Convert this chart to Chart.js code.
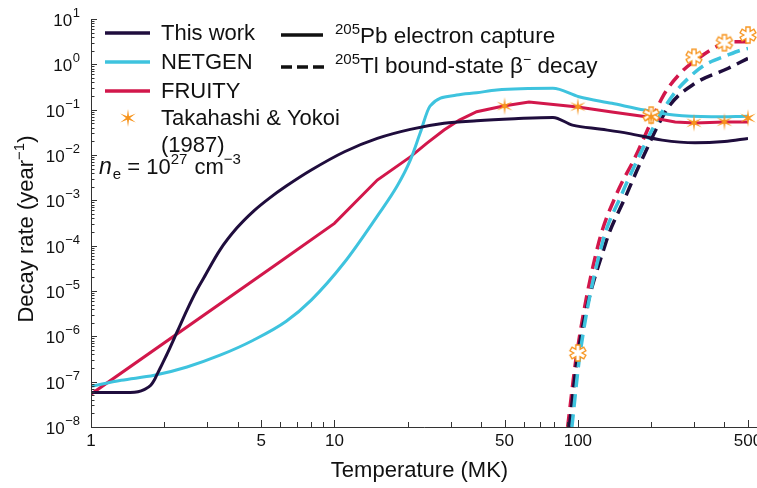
<!DOCTYPE html>
<html><head><meta charset="utf-8">
<script src="https://cdn.jsdelivr.net/npm/chart.js@4/dist/chart.umd.min.js"></script>
<style>html,body{margin:0;padding:0;background:#fff}canvas{display:block}</style>
</head><body>
<canvas id="c" width="757" height="488"></canvas>
<script>
const FONT = '"Liberation Sans", Arial, Helvetica, sans-serif';
const C_THIS = '#1f0d3d', C_NET = '#3ec3de', C_FRU = '#d2174b', C_TY = '#f7941d';

// 205Pb electron capture (solid)
const thisWorkEC_T = [1, 1.2, 1.45, 1.56, 1.654, 1.76, 1.818, 1.875, 1.965, 2.059, 2.262, 2.484, 2.729, 2.912, 3.384, 3.97, 4.656, 5.41, 6.34, 8.0, 11.0, 15.0, 20.5, 28.2, 38.4, 55, 79, 95, 125, 161, 222, 303, 400, 500];
const thisWorkEC   = [5.8e-8, 5.8e-8, 5.8e-8, 6.0e-8, 6.7e-8, 8.3e-8, 1.07e-7, 1.51e-7, 2.5e-7, 4.2e-7, 1.28e-6, 3.9e-6, 1.08e-5, 1.99e-5, 8.0e-5, 2.44e-4, 5.8e-4, 1.12e-3, 2.06e-3, 4.6e-3, 0.0118, 0.0232, 0.0367, 0.0499, 0.0569, 0.063, 0.0676, 0.0457, 0.037, 0.030, 0.0213, 0.0186, 0.0199, 0.0232];
const netgenEC_T = [1, 1.33, 1.82, 2.48, 3.39, 4.64, 6.34, 8.03, 11.0, 15.0, 18.1, 20.5, 22.5, 24.7, 31.8, 38.4, 46.4, 78.9, 101, 138, 188, 248, 354, 500];
const netgenEC   = [7.9e-8, 1.07e-7, 1.38e-7, 2.11e-7, 3.83e-7, 8.2e-7, 2.15e-6, 6.3e-6, 4.3e-5, 4.5e-4, 2.06e-3, 7.7e-3, 0.0304, 0.12, 0.21, 0.236, 0.271, 0.295, 0.193, 0.138, 0.098, 0.076, 0.0697, 0.072];
const fruityEC_T = [1, 5.9, 10, 15, 20.5, 24, 28.2, 32.6, 38.4, 49.5, 63, 100, 138, 194, 251, 303, 400, 500];
const fruityEC   = [5.3e-8, 4.2e-5, 3.1e-4, 2.8e-3, 9.1e-3, 0.0183, 0.0355, 0.059, 0.09, 0.12, 0.147, 0.114, 0.0885, 0.0687, 0.0532, 0.0506, 0.0532, 0.0532];

// 205Tl bound-state beta- decay (dashed)
const thisWorkBSD_T = [92.3, 100, 130, 157, 183, 236, 303, 413, 500];
const thisWorkBSD   = [1e-8, 4e-7, 1.12e-4, 1.2e-3, 7.8e-3, 0.115, 0.38, 0.81, 1.35];
const netgenBSD_T = [94.5, 102, 126, 152, 178, 205, 243, 284, 332, 413, 469, 500];
const netgenBSD   = [1e-8, 4e-7, 1.14e-4, 1.42e-3, 9.1e-3, 0.042, 0.193, 0.49, 0.966, 1.60, 2.07, 2.25];
const fruityBSD_T = [90.8, 98.9, 121.6, 144.5, 172.2, 195, 223.9, 263, 302.7, 388, 440.5, 500];
const fruityBSD   = [1e-8, 4e-7, 1.12e-4, 1.41e-3, 9.1e-3, 0.040, 0.20, 0.63, 1.20, 2.75, 3.16, 3.16];

// Takahashi & Yokoi (1987)
const tyEC_T  = [50, 100, 200, 300, 400, 500];
const tyEC    = [0.12, 0.117, 0.0697, 0.0514, 0.054, 0.0653];
const tyBSD_T = [100, 200, 300, 400, 500];
const tyBSD   = [4.3e-7, 0.076, 1.43, 3.0, 4.43];

const xTickLabels = [1, 5, 10, 50, 100, 500];
const yTickExponents = [-8, -7, -6, -5, -4, -3, -2, -1, 0, 1];

function pts(T, V) { return T.map((t, i) => ({ x: t, y: V[i] })); }

function starPath(g, cx, cy, R, a) {
  g.beginPath();
  for (let k = 0; k < 6; k++) {
    const th = (-90 + 60 * k) * Math.PI / 180;
    const ux = Math.cos(th), uy = Math.sin(th), nx = -uy, ny = ux;
    g.lineTo(cx + R * ux - a * nx, cy + R * uy - a * ny);
    g.lineTo(cx + R * ux + a * nx, cy + R * uy + a * ny);
    const tb = th + Math.PI / 6;
    g.lineTo(cx + 2 * a * Math.cos(tb), cy + 2 * a * Math.sin(tb));
  }
  g.closePath();
}
function makeStar(filled) {
  const cv = document.createElement('canvas');
  cv.width = 22; cv.height = 22;
  const g = cv.getContext('2d');
  if (filled) {
    g.beginPath();
    for (let k = 0; k < 12; k++) {
      const th = (-90 + 30 * k) * Math.PI / 180;
      const r = k % 2 === 0 ? 9 : 2.0;
      g.lineTo(11 + r * Math.cos(th), 11 + r * Math.sin(th));
    }
    g.closePath();
    g.fillStyle = C_TY; g.fill();
  } else {
    starPath(g, 11, 11, 8, 2.1);
    g.fillStyle = '#fff'; g.fill();
    g.strokeStyle = C_TY; g.lineWidth = 1.3; g.stroke();
  }
  return cv;
}
const filledStar = makeStar(true), hollowStar = makeStar(false);

function drawRich(ctx, x, y, parts) {
  ctx.textAlign = 'left'; ctx.textBaseline = 'alphabetic';
  for (const p of parts) {
    ctx.font = (p.italic ? 'italic ' : '') + p.size + 'px ' + FONT;
    ctx.fillText(p.t, x, y + (p.dy || 0));
    x += ctx.measureText(p.t).width + (p.gap || 0);
  }
  return x;
}
function richWidth(ctx, parts) {
  let w = 0;
  for (const p of parts) { ctx.font = (p.italic ? 'italic ' : '') + p.size + 'px ' + FONT; w += ctx.measureText(p.t).width + (p.gap || 0); }
  return w;
}

const axisPlugin = {
  id: 'axisPlugin',
  afterDraw(chart) {
    const ctx = chart.ctx, xs = chart.scales.x, ys = chart.scales.y;
    const L = xs.left, B = ys.bottom, T = ys.top, R = xs.right;
    ctx.save();
    ctx.strokeStyle = '#333'; ctx.lineWidth = 1; ctx.fillStyle = '#111';
    // axis lines
    ctx.beginPath();
    ctx.moveTo(L + 0.5, T); ctx.lineTo(L + 0.5, B + 0.5); ctx.lineTo(chart.width, B + 0.5);
    ctx.stroke();
    // y ticks
    ctx.beginPath();
    for (let k = -8; k <= 0; k++) {
      for (let m = 1; m <= 9; m++) {
        const yy = Math.round(ys.getPixelForValue(m * Math.pow(10, k))) + 0.5;
        ctx.moveTo(L, yy); ctx.lineTo(L + (m === 1 ? 6 : 3.5), yy);
      }
    }
    { const yy = Math.round(ys.getPixelForValue(10)) + 0.5; ctx.moveTo(L, yy); ctx.lineTo(L + 6, yy); }
    // x ticks
    for (let k = 0; k <= 2; k++) {
      for (let m = 1; m <= 9; m++) {
        const v = m * Math.pow(10, k);
        if (v > 500) continue;
        const xx = Math.round(xs.getPixelForValue(v)) + 0.5;
        const major = xTickLabels.indexOf(v) >= 0;
        ctx.moveTo(xx, B); ctx.lineTo(xx, B - (major ? 7 : 5));
      }
    }
    ctx.stroke();
    // x labels
    ctx.font = '17px ' + FONT; ctx.textAlign = 'center'; ctx.textBaseline = 'middle';
    for (const v of xTickLabels) ctx.fillText(String(v), xs.getPixelForValue(v), B + 14);
    // y labels
    for (const e of yTickExponents) {
      const yy = ys.getPixelForValue(Math.pow(10, e));
      const es = (e < 0 ? '\u2212' : '') + Math.abs(e);
      ctx.font = '13px ' + FONT;
      const ew = ctx.measureText(es).width;
      ctx.textAlign = 'left'; ctx.textBaseline = 'alphabetic';
      ctx.fillText(es, 80 - ew, yy - 2);
      ctx.font = '17px ' + FONT; ctx.textAlign = 'right';
      ctx.fillText('10', 80 - ew - 0.5, yy + 7);
    }
    // axis titles
    ctx.font = '22px ' + FONT; ctx.textAlign = 'center'; ctx.textBaseline = 'middle';
    ctx.fillText('Temperature (MK)', (L + R) / 2, 471);
    ctx.save();
    ctx.translate(25, 229); ctx.rotate(-Math.PI / 2);
    const yt = [{ t: 'Decay rate (year', size: 22 }, { t: '\u22121', size: 15, dy: -9 }, { t: ')', size: 22 }];
    drawRich(ctx, -richWidth(ctx, yt) / 2, 8, yt);
    ctx.restore();
    // legend column 1
    const rows = [['This work', C_THIS, 33], ['NETGEN', C_NET, 62], ['FRUITY', C_FRU, 91]];
    ctx.lineWidth = 3.5;
    for (const [lab, col, y] of rows) {
      ctx.strokeStyle = col; ctx.beginPath(); ctx.moveTo(105, y); ctx.lineTo(150, y); ctx.stroke();
      drawRich(ctx, 161, y + 7, [{ t: lab, size: 22 }]);
    }
    ctx.drawImage(filledStar, 128 - 11, 118 - 11);
    drawRich(ctx, 161, 125, [{ t: 'Takahashi & Yokoi', size: 22 }]);
    drawRich(ctx, 161, 151.5, [{ t: '(1987)', size: 22 }]);
    drawRich(ctx, 99, 174, [
      { t: 'n', size: 23, italic: true, gap: 1 }, { t: 'e', size: 15, dy: 5 },
      { t: ' = 10', size: 22 }, { t: '27', size: 15, dy: -10, gap: 1 },
      { t: ' cm', size: 22 }, { t: '\u22123', size: 15, dy: -10 }]);
    // legend column 2
    ctx.strokeStyle = '#111'; ctx.lineWidth = 3.5;
    ctx.beginPath(); ctx.moveTo(281, 35); ctx.lineTo(323, 35); ctx.stroke();
    ctx.setLineDash([11, 5]);
    ctx.beginPath(); ctx.moveTo(281, 67); ctx.lineTo(324, 67); ctx.stroke();
    ctx.setLineDash([]);
    drawRich(ctx, 335, 43, [{ t: '205', size: 15, dy: -9 }, { t: 'Pb electron capture', size: 22.5 }]);
    drawRich(ctx, 335, 73, [{ t: '205', size: 15, dy: -9 }, { t: 'Tl bound-state \u03B2', size: 22.5 },
      { t: '\u2212', size: 14, dy: -9 }, { t: ' decay', size: 22.5 }]);
    ctx.restore();
  }
};

const solid = (label, T, V, col, mono, order) => ({
  label, data: pts(T, V), borderColor: col, borderWidth: 3, pointRadius: 0,
  cubicInterpolationMode: mono ? 'monotone' : 'default', tension: 0, fill: false, order
});
const dashed = (label, T, V, col, order) => ({
  label, data: pts(T, V), borderColor: col, borderWidth: 3.5, borderDash: [13, 7], pointRadius: 0,
  cubicInterpolationMode: 'monotone', fill: false, order
});

new Chart(document.getElementById('c'), {
  type: 'line',
  data: {
    datasets: [
      { label: 'Takahashi & Yokoi EC', data: pts(tyEC_T, tyEC), showLine: false, pointStyle: filledStar, pointRadius: 8, order: 0, clip: 12 },
      { label: 'Takahashi & Yokoi BSD', data: pts(tyBSD_T, tyBSD), showLine: false, pointStyle: hollowStar, pointRadius: 8, order: 0, clip: 12 },
      solid('This work', thisWorkEC_T, thisWorkEC, C_THIS, true, 1),
      solid('NETGEN', netgenEC_T, netgenEC, C_NET, true, 2),
      solid('FRUITY', fruityEC_T, fruityEC, C_FRU, false, 3),
      dashed('NETGEN BSD', netgenBSD_T, netgenBSD, C_NET, 4),
      dashed('This work BSD', thisWorkBSD_T, thisWorkBSD, C_THIS, 5),
      dashed('FRUITY BSD', fruityBSD_T, fruityBSD, C_FRU, 6)
    ]
  },
  options: {
    responsive: false, animation: false, devicePixelRatio: 1,
    layout: { padding: { left: 0, right: 3, top: 19, bottom: 0 } },
    plugins: { legend: { display: false }, tooltip: { enabled: false } },
    scales: {
      x: { type: 'logarithmic', min: 1, max: 500, grid: { display: false }, border: { display: false }, ticks: { display: false },
           afterFit(s) { s.height = 61; s.paddingLeft = 0; s.paddingRight = 0; } },
      y: { type: 'logarithmic', min: 1e-8, max: 10, grid: { display: false }, border: { display: false }, ticks: { display: false },
           afterFit(s) { s.width = 91; s.paddingTop = 0; s.paddingBottom = 0; } }
    }
  },
  plugins: [axisPlugin]
});
</script>
</body></html>
